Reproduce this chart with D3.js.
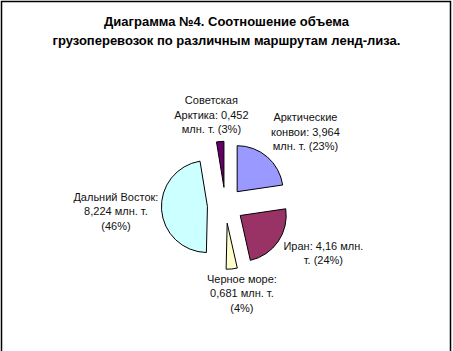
<!DOCTYPE html>
<html>
<head>
    <meta charset="utf-8">
    <title>Диаграмма №4</title>
    <style>
        body { margin: 0; background: #fff; }
        svg { display: block; font-family: "Liberation Sans", Arial, sans-serif; }
        .slice { stroke: #000; stroke-width: 1; }
        .lbl { font-size: 11px; fill: #111; }
        .title { font-size: 13px; font-weight: bold; fill: #000; }
    </style>
</head>
<body>
    <svg width="453" height="351"></svg>
    <script src="https://cdnjs.cloudflare.com/ajax/libs/d3/7.8.5/d3.min.js"></script>
    <script>
        // Данные диаграммы (млн. т.)
        const categories = ["Арктические конвои", "Иран", "Черное море", "Дальний Восток", "Советская Арктика"];
        const values = [3.964, 4.16, 0.681, 8.224, 0.452];
        const percents = [23, 24, 4, 46, 3];
        // Подписи в том виде, как они разбиты на строки
        const labelLines = [
            ["Арктические", "конвои: 3,964", "млн. т. (23%)"],
            ["Иран: 4,16 млн.", "т. (24%)"],
            ["Черное море:", "0,681 млн. т.", "(4%)"],
            ["Дальний Восток:", "8,224 млн. т.", "(46%)"],
            ["Советская", "Арктика: 0,452", "млн. т. (3%)"]
        ];
        const colors = ["#9999ff", "#993366", "#ffffcc", "#ccffff", "#660066"];
        const titleLines = ["Диаграмма №4. Соотношение объема", "грузоперевозок по различным маршрутам ленд-лиза."];

        let svg = d3.select('svg');
        let width = +svg.attr('width');

        // рамка
        svg.append('rect')
            .attr('x', 1.5).attr('y', 1.5)
            .attr('width', 449).attr('height', 352)
            .attr('fill', 'none').attr('stroke', '#000').attr('stroke-width', 1.5);

        // заголовок
        svg.append('text')
            .attr('class', 'title')
            .attr('text-anchor', 'middle')
            .selectAll('tspan')
            .data(titleLines)
            .enter().append('tspan')
            .attr('x', width / 2)
            .attr('y', (d, i) => 26 + i * 19)
            .text(d => d);

        let cx = 225.4, cy = 205.3, radius = 46, explode = 18;

        let pie = d3.pie().sort(null).value(d => d.value);
        let arc = d3.arc().innerRadius(0).outerRadius(radius);
        let data = categories.map((c, i) => ({ name: c, value: values[i], pct: percents[i], lines: labelLines[i], color: colors[i] }));
        let arcs = pie(data);

        let g = svg.append('g').attr('transform', 'translate(' + cx + ',' + cy + ')');

        g.selectAll('path')
            .data(arcs)
            .enter().append('path')
            .attr('class', 'slice')
            .attr('fill', d => d.data.color)
            .attr('d', arc)
            .attr('transform', d => {
                let a = (d.startAngle + d.endAngle) / 2;
                return 'translate(' + (Math.sin(a) * explode) + ',' + (-Math.cos(a) * explode) + ')';
            });

        // смещение подписей относительно центра диаграммы
        let labelOffset = {
            "Арктические конвои": [80, -84.5],
            "Иран": [98, 44.5],
            "Черное море": [16.5, 77.5],
            "Дальний Восток": [-109.5, -4.5],
            "Советская Арктика": [-14, -101.5]
        };

        let lbl = g.selectAll('text.lbl')
            .data(arcs)
            .enter().append('text')
            .attr('class', 'lbl')
            .attr('text-anchor', 'middle');

        lbl.each(function (d) {
            let off = labelOffset[d.data.name];
            d3.select(this).selectAll('tspan')
                .data(d.data.lines)
                .enter().append('tspan')
                .attr('x', off[0])
                .attr('y', (t, i) => off[1] + i * 14.7)
                .text(t => t);
        });
    </script>
</body>
</html>
